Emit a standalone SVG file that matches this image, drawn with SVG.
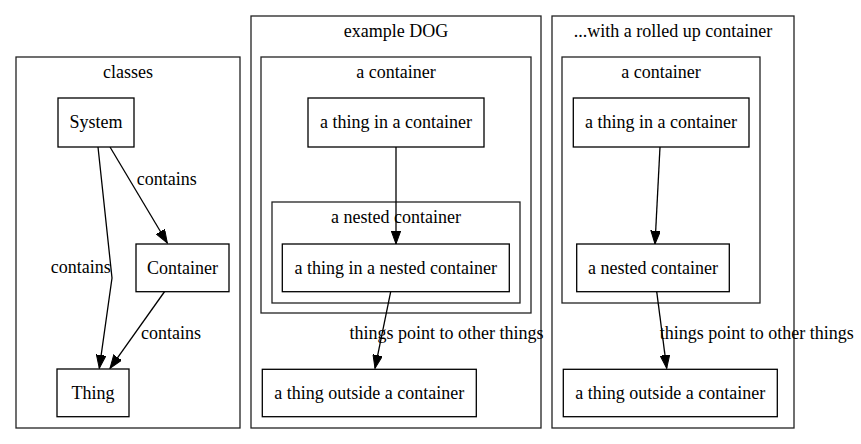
<svg xmlns="http://www.w3.org/2000/svg" width="861" height="444" viewBox="0 0 861 444" font-family="'Liberation Serif', 'Times New Roman', Times, serif">
<defs>
<style>
text{font-family:'Liberation Serif','Times New Roman',Times,serif;font-size:18px;fill:#000;text-anchor:middle}
.cl{fill:none;stroke:#222;stroke-width:1.3}
.nd{fill:#fff;stroke:#000;stroke-width:1.3}
.ed{fill:none;stroke:#000;stroke-width:1.3;marker-end:url(#ah)}
</style>
<marker id="ah" markerUnits="userSpaceOnUse" markerWidth="14" markerHeight="10" refX="13.3" refY="4.8" orient="auto">
<path d="M0,0 L13.3,4.8 L0,9.6 z" fill="#000" stroke="#000" stroke-width="1"/>
</marker>
</defs>
<rect width="861" height="444" fill="#fff"/>
<g id="clusters">
<g id="cluster-classes"><rect class="cl" x="16" y="57" width="224" height="371"/><text x="128" y="78">classes</text></g>
<g id="cluster-dog"><rect class="cl" x="251" y="16" width="290" height="412"/><text x="396" y="37">example DOG</text></g>
<g id="cluster-dog-container"><rect class="cl" x="261" y="57" width="270" height="256"/><text x="396" y="78">a container</text></g>
<g id="cluster-dog-nested"><rect class="cl" x="272" y="202" width="248" height="101"/><text x="396" y="223">a nested container</text></g>
<g id="cluster-rolled"><rect class="cl" x="552" y="16" width="242" height="412"/><text x="673" y="37">...with a rolled up container</text></g>
<g id="cluster-rolled-container"><rect class="cl" x="562" y="57" width="198" height="246"/><text x="661" y="78">a container</text></g>
</g>
<g id="connectors">
<path class="ed" d="M98,147 L112,278 L99.3,368.3"/>
<path class="ed" d="M110,147 L167.3,243"/>
<path class="ed" d="M165,291 L110,368.3"/>
<path class="ed" d="M396,147 L396,244"/>
<path class="ed" d="M390.7,291.7 L375,368.3"/>
<path class="ed" d="M660,147 L655,244"/>
<path class="ed" d="M656.7,291.7 L666.7,368.3"/>
<text x="166.7" y="185">contains</text>
<text x="80.7" y="273">contains</text>
<text x="171" y="339">contains</text>
<text x="446.5" y="339">things point to other things</text>
<text x="756.8" y="339">things point to other things</text>
</g>
<g id="node-system"><rect class="nd" x="58" y="98" width="76" height="49"/><text x="96" y="128">System</text></g>
<g id="node-container"><rect class="nd" x="136" y="244" width="93" height="47.7"/><text x="182.5" y="274">Container</text></g>
<g id="node-thing"><rect class="nd" x="57" y="369" width="72" height="47.7"/><text x="93" y="399">Thing</text></g>
<g id="node-dog-thing"><rect class="nd" x="308" y="98" width="176" height="49"/><text x="396" y="128">a thing in a container</text></g>
<g id="node-dog-nested-thing"><rect class="nd" x="282.3" y="244" width="227" height="47.7"/><text x="395.8" y="274">a thing in a nested container</text></g>
<g id="node-dog-outside"><rect class="nd" x="262.3" y="369.3" width="214" height="47.4"/><text x="369.3" y="399">a thing outside a container</text></g>
<g id="node-rolled-thing"><rect class="nd" x="573.3" y="98" width="175.7" height="49"/><text x="661" y="128">a thing in a container</text></g>
<g id="node-rolled-nested"><rect class="nd" x="576.7" y="244" width="152.6" height="47.7"/><text x="653" y="274">a nested container</text></g>
<g id="node-rolled-outside"><rect class="nd" x="563.3" y="369.3" width="214" height="47.4"/><text x="670.3" y="399">a thing outside a container</text></g>
</svg>
